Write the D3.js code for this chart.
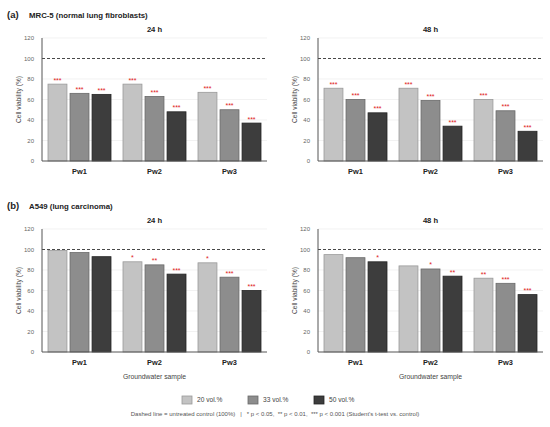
<!DOCTYPE html>
<html>
<head>
<meta charset="utf-8">
<script src="https://cdn.jsdelivr.net/npm/d3@7"></script>
<style>
  body { margin: 0; background: #fff; }
  svg { font-family: Arial, "Liberation Sans", sans-serif; display: block; }
  .tick-label { fill: #666; font-size: 6px; }
  .grp-label { fill: #222; font-size: 7.4px; font-weight: bold; }
  .star { fill: #e0201c; font-size: 7px; }
</style>
</head>
<body>
<svg id="chart"></svg>
<script>
'use strict';
//Chart values.
const groups = ['Pw1', 'Pw2', 'Pw3'];
const doses = ['20 vol.%', '33 vol.%', '50 vol.%'];
const yTicks = [0, 20, 40, 60, 80, 100, 120];
const control = 100;
//Rows are groups, columns are doses.
const mrc24 = [[75, 66, 65], [75, 63, 48], [67, 50, 37]];
const mrc48 = [[71, 60, 47], [71, 59, 34], [60, 49, 29]];
const a549_24 = [[99, 97, 93], [88, 85, 76], [87, 73, 60]];
const a549_48 = [[95, 92, 88], [84, 81, 74], [72, 67, 56]];
const mrc24Sig = [['***', '***', '***'], ['***', '***', '***'], ['***', '***', '***']];
const mrc48Sig = [['***', '***', '***'], ['***', '***', '***'], ['***', '***', '***']];
const a549_24Sig = [['', '', ''], ['*', '**', '***'], ['*', '***', '***']];
const a549_48Sig = [['', '', '*'], ['', '*', '**'], ['**', '***', '***']];

const width = 550;
const height = 427;
const svg = d3.select('#chart').attr('width', width).attr('height', height);

const fills = ['#c3c3c3', '#8d8d8d', '#3d3d3d'];
const strokes = ['#9a9a9a', '#6a6a6a', '#252525'];

//Panel layout: left x of the plot area and top y.
const pw = 225; //Plot width.
const ph = 123; //Plot height.
const panels = [
	{ vals: mrc24, sig: mrc24Sig, title: '24 h', x: 42, y: 38, xTitle: false },
	{ vals: mrc48, sig: mrc48Sig, title: '48 h', x: 318, y: 38, xTitle: false },
	{ vals: a549_24, sig: a549_24Sig, title: '24 h', x: 42, y: 229, xTitle: true },
	{ vals: a549_48, sig: a549_48Sig, title: '48 h', x: 318, y: 229, xTitle: true }
];

const y = d3.scaleLinear().domain([0, 120]).range([ph, 0]);
const x0 = d3.scaleBand().domain(groups).range([0, pw]).paddingInner(0.16).paddingOuter(0.08);
const x1 = d3.scaleBand().domain(d3.range(doses.length)).range([0, x0.bandwidth()]).paddingInner(0.14);

panels.forEach(p => {
	const g = svg.append('g').attr('transform', `translate(${p.x},${p.y})`);
	//Faint gridlines.
	g.selectAll('line.grid').data(yTicks.filter(t => t > 0 && t !== control)).join('line')
		.attr('x1', 0).attr('x2', pw)
		.attr('y1', d => y(d)).attr('y2', d => y(d))
		.style('stroke', '#ececec').style('stroke-width', '0.7px');
	//Tick labels.
	g.selectAll('text.tick-label').data(yTicks).join('text')
		.attr('class', 'tick-label')
		.attr('x', -8).attr('y', d => y(d))
		.attr('dy', '0.35em')
		.attr('text-anchor', 'end')
		.text(d => d);
	//Axis title.
	g.append('text')
		.attr('transform', `translate(-21,${ph / 2}) rotate(-90)`)
		.attr('text-anchor', 'middle')
		.style('font-size', '6.6px').style('fill', '#444')
		.text('Cell viability (%)');
	//Panel title.
	g.append('text')
		.attr('x', pw / 2).attr('y', -9)
		.attr('dy', '0.35em')
		.attr('text-anchor', 'middle')
		.style('font-size', '7.6px').style('font-weight', 'bold').style('fill', '#222')
		.text(p.title);
	//Bars.
	const grp = g.selectAll('g.grp').data(groups).join('g')
		.attr('transform', d => `translate(${x0(d)},0)`);
	grp.each(function (gName, gi) {
		const row = p.vals[gi].map((v, di) => ({ v, di, s: p.sig[gi][di] }));
		d3.select(this).selectAll('rect').data(row).join('rect')
			.attr('x', d => x1(d.di)).attr('width', x1.bandwidth())
			.attr('y', d => y(d.v)).attr('height', d => ph - y(d.v))
			.style('fill', d => fills[d.di])
			.style('stroke', d => strokes[d.di])
			.style('stroke-width', '0.8px');
		d3.select(this).selectAll('text.star').data(row.filter(d => d.s)).join('text')
			.attr('class', 'star')
			.attr('x', d => x1(d.di) + x1.bandwidth() / 2)
			.attr('y', d => y(d.v) - 1.5)
			.attr('text-anchor', 'middle')
			.text(d => d.s);
	});
	//Control line.
	g.append('line')
		.attr('x1', 0).attr('x2', pw)
		.attr('y1', y(control)).attr('y2', y(control))
		.style('stroke', '#333').style('stroke-width', '0.9px')
		.style('stroke-dasharray', '3,2');
	//Axis lines.
	g.append('line').attr('x1', 0).attr('x2', 0).attr('y1', 0).attr('y2', ph)
		.style('stroke', '#555').style('stroke-width', '1px');
	g.append('line').attr('x1', 0).attr('x2', pw).attr('y1', ph).attr('y2', ph)
		.style('stroke', '#555').style('stroke-width', '1px');
	//Group labels.
	g.selectAll('text.grp-label').data(groups).join('text')
		.attr('class', 'grp-label')
		.attr('x', d => x0(d) + x0.bandwidth() / 2)
		.attr('y', ph + 10)
		.attr('dy', '0.35em')
		.attr('text-anchor', 'middle')
		.text(d => d);
	if (p.xTitle) {
		g.append('text')
			.attr('x', pw / 2).attr('y', ph + 25)
			.attr('dy', '0.35em')
			.attr('text-anchor', 'middle')
			.style('font-size', '6.8px').style('fill', '#444')
			.text('Groundwater sample');
	}
});

//Section headings.
const heads = [
	{ tag: '(a)', text: 'MRC-5 (normal lung fibroblasts)', y: 15 },
	{ tag: '(b)', text: 'A549 (lung carcinoma)', y: 206 }
];
heads.forEach(h => {
	svg.append('text').attr('x', 7).attr('y', h.y).attr('dy', '0.35em')
		.style('font-size', '9.5px').style('font-weight', 'bold').style('fill', '#222')
		.text(h.tag);
	svg.append('text').attr('x', 29).attr('y', h.y).attr('dy', '0.35em')
		.style('font-size', '7.8px').style('font-weight', 'bold').style('fill', '#222')
		.text(h.text);
});

//Legend.
const legX = [182, 248, 314];
const leg = svg.selectAll('g.leg').data(doses).join('g')
	.attr('transform', (d, i) => `translate(${legX[i]},396)`);
leg.append('rect')
	.attr('width', 10).attr('height', 8)
	.style('fill', (d, i) => fills[i])
	.style('stroke', (d, i) => strokes[i])
	.style('stroke-width', '0.8px');
leg.append('text')
	.attr('x', 15).attr('y', 4).attr('dy', '0.35em')
	.style('font-size', '6.6px').style('fill', '#444')
	.text(d => d);

//Footnote.
svg.append('text')
	.attr('x', width / 2).attr('y', 414).attr('dy', '0.35em')
	.attr('text-anchor', 'middle')
	.style('font-size', '6px').style('fill', '#555')
	.style('white-space', 'pre')
	.attr('xml:space', 'preserve')
	.text('Dashed line = untreated control (100%)   |   * p < 0.05,  ** p < 0.01,  *** p < 0.001 (Student\'s t-test vs. control)');
</script>
</body>
</html>
